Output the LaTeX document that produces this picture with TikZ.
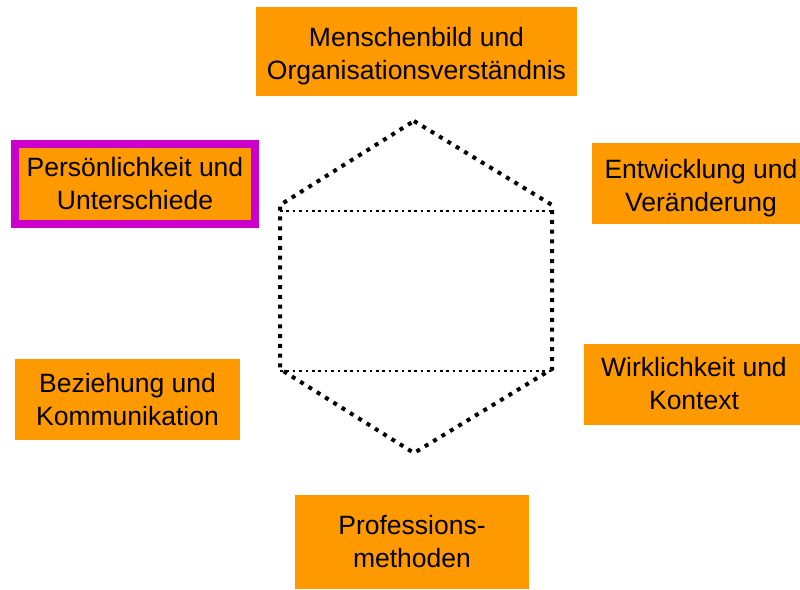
\documentclass[tikz,border=0pt]{standalone}
\usepackage{fontspec}
\setmainfont{Liberation Sans}
\usepackage{tikz}
\usetikzlibrary{positioning,calc}
\definecolor{boxorange}{HTML}{FF9900}
\definecolor{hilite}{HTML}{CC00CC}
\tikzstyle{topic}=[fill=boxorange, align=center, inner sep=0pt, font=\fontsize{26.5}{33}\selectfont]
\tikzstyle{hexline}=[line width=4pt, dash pattern=on 4pt off 5.8pt]
\tikzstyle{midline}=[line width=2.6pt, dash pattern=on 2.6pt off 3.8pt]

\begin{document}
\begin{tikzpicture}[x=1pt, y=-1pt]
        \useasboundingbox (0,0) rectangle (800,589);
        % topics round the hexagon
        \node at (416.5,51.5) [topic, minimum width=321pt, minimum height=89pt, text height=62pt] (mensch) {Menschenbild und\\Organisationsverständnis};
        \node at (135,184) [topic, minimum width=240pt, minimum height=80pt, draw=hilite, line width=8pt] (person) {Persönlichkeit und\\Unterschiede};
        \node at (701,183.5) [topic, minimum width=218pt, minimum height=81pt, text height=61pt] (entw) {Entwicklung und\\Veränderung};
        \node at (127.5,399.5) [topic, minimum width=225pt, minimum height=81pt] (bez) {Beziehung und\\Kommunikation};
        \node at (694,384) [topic, minimum width=220pt, minimum height=81pt] (wirk) {Wirklichkeit und\\Kontext};
        \node at (412,542) [topic, minimum width=234pt, minimum height=94pt] (prof) {Professions-\\methoden};
        % hexagon
        \coordinate (top) at (414,121);
        \coordinate (ur) at (552,205);
        \coordinate (lr) at (552,369);
        \coordinate (bot) at (414,453);
        \coordinate (ll) at (280,369);
        \coordinate (ul) at (280,205);
        \draw[hexline] (top) -- (ur) -- (lr) -- (bot) -- (ll) -- (ul) -- cycle;
        \draw[midline] ($(ul)+(0,6)$) -- ($(ur)+(0,6)$);
        \draw[midline] ($(ll)+(0,2)$) -- ($(lr)+(0,2)$);
      \end{tikzpicture}
\end{document}
